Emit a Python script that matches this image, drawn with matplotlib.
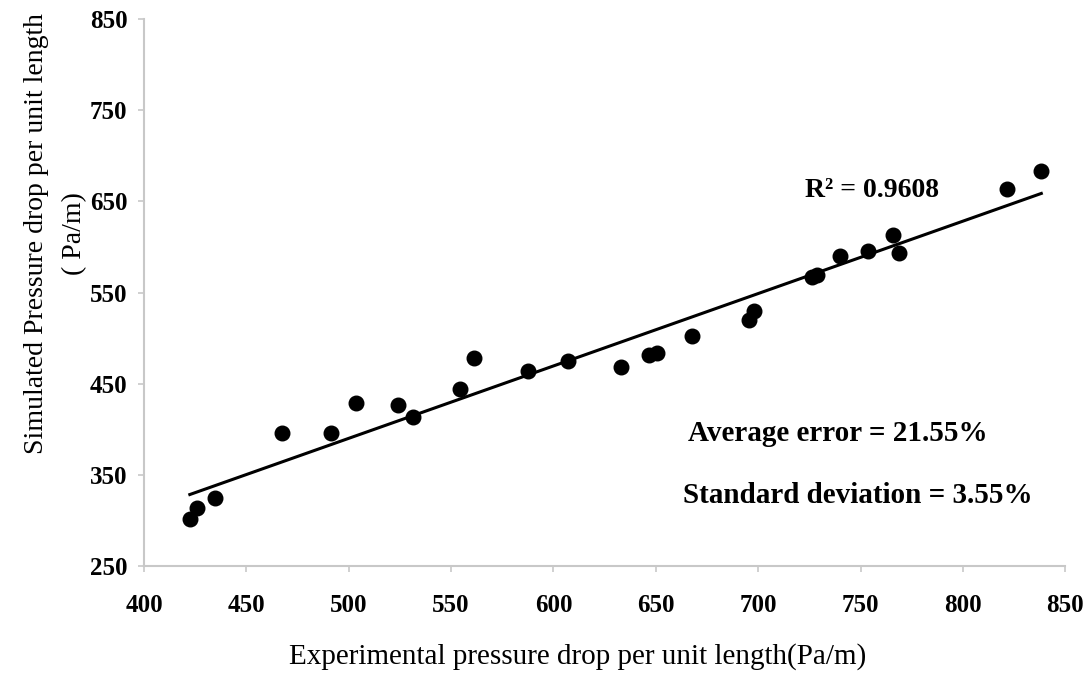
import numpy as np
import matplotlib.pyplot as plt

plt.rcParams['font.family'] = ['Liberation Serif', 'DejaVu Serif']

# measured vs simulated pressure drop per unit length (Pa/m)
exp_dp = [422.4, 425.9, 434.7, 467.6, 491.3, 503.8, 524.3, 531.2, 554.3, 561.2,
          587.7, 607.2, 633.0, 646.8, 650.7, 667.8, 695.6, 698.0, 726.2, 728.6,
          740.0, 753.6, 766.1, 769.0, 821.5, 838.3]
sim_dp = [301.5, 314.0, 325.0, 395.5, 395.5, 428.4, 426.5, 413.7, 443.7, 477.7,
          463.8, 474.8, 467.9, 482.0, 483.2, 502.2, 519.7, 530.0, 567.2, 569.0,
          590.2, 595.7, 613.0, 592.9, 663.0, 683.0]
x_ticks = [400, 450, 500, 550, 600, 650, 700, 750, 800, 850]
y_ticks = [250, 350, 450, 550, 650, 750, 850]

x = np.array(exp_dp)
y = np.array(sim_dp)

fig = plt.figure(figsize=(10.89, 6.79), dpi=100)
ax = fig.add_axes([0.1322, 0.1664, 0.846, 0.8056])

ax.scatter(x, y, s=110, color='black', zorder=3)

# linear trendline
k, b = np.polyfit(x, y, 1)
xl = np.array([x.min(), x.max()])
ax.plot(xl, k * xl + b, color='black', lw=2.2)

ax.set_xlim(400, 850)
ax.set_ylim(250, 850)
ax.set_xticks(x_ticks)
ax.set_yticks(y_ticks)
for lbl in ax.get_xticklabels() + ax.get_yticklabels():
    lbl.set_fontweight('bold')
ax.tick_params(axis='both', labelsize=18, color='#c8c8c8', length=4, width=1.2)
ax.tick_params(axis='x', pad=16)
ax.tick_params(axis='y', pad=8)

for side in ['top', 'right']:
    ax.spines[side].set_visible(False)
for side in ['left', 'bottom']:
    ax.spines[side].set_color('#c8c8c8')
    ax.spines[side].set_linewidth(1.5)

ax.set_xlabel('Experimental pressure drop per unit length(Pa/m)', fontsize=21)
ax.xaxis.set_label_coords(0.471, -0.14)
ax.set_ylabel('Simulated Pressure drop per unit length\n( Pa/m)', fontsize=20,
              linespacing=1.65)
ax.yaxis.set_label_coords(-0.062, 0.607)

ax.text(723, 662, 'R² = 0.9608', fontsize=20, fontweight='bold', ha='left', va='center')
ax.text(665.7, 395, 'Average error = 21.55%', fontsize=21, fontweight='bold',
        ha='left', va='center')
ax.text(663.3, 327, 'Standard deviation = 3.55%', fontsize=21, fontweight='bold',
        ha='left', va='center')

fig.savefig('out.png', dpi=100)
